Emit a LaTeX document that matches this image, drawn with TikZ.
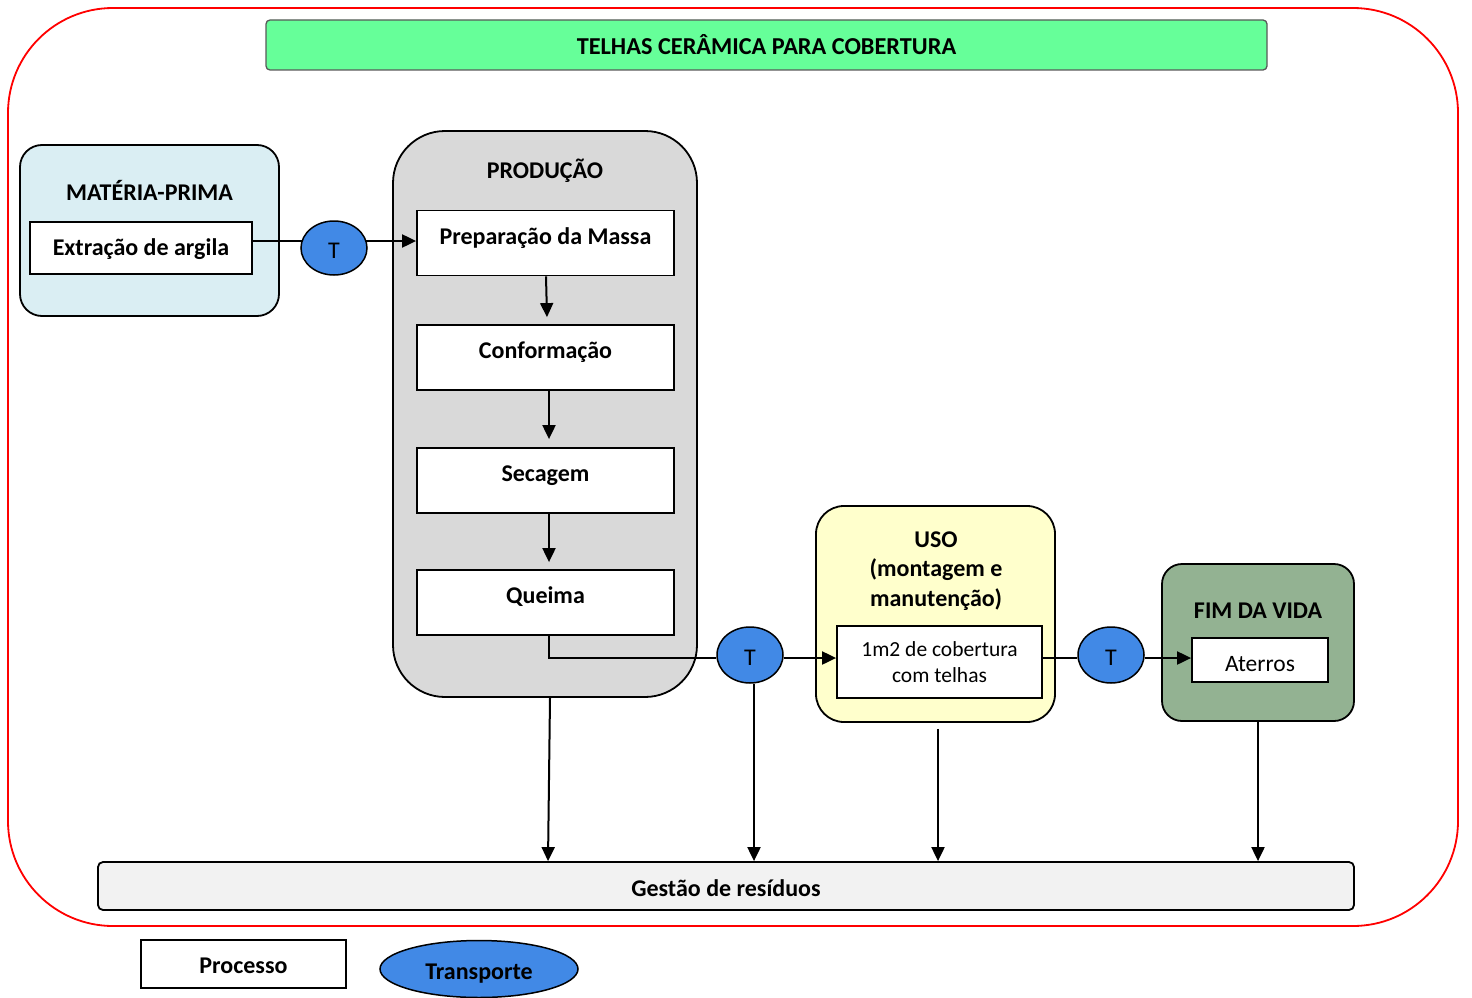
\documentclass[tikz,border=0pt]{standalone}
\usepackage{fontspec}
\setmainfont{Carlito}
\usetikzlibrary{arrows.meta,shapes.geometric}
\pgfdeclarelayer{fg}
\pgfsetlayers{main,fg}
\definecolor{tgreen}{HTML}{66FF99}
\definecolor{mpblue}{HTML}{DAEEF3}
\definecolor{prodgray}{HTML}{D9D9D9}
\definecolor{usoyel}{HTML}{FFFFCC}
\definecolor{fimgreen}{HTML}{93B292}
\definecolor{tblue}{HTML}{4189E6}
\definecolor{gestgray}{HTML}{F2F2F2}
\newcommand{\txtat}[2]{\raisebox{#1}[0pt][0pt]{#2}}
\tikzset{
  fixt/.style={text height=0pt, text depth=0pt},
  stage/.style={draw=black, line width=1.8pt, inner sep=0pt},
  proc/.style={fixt, draw=black, fill=white, line width=1.8pt, inner sep=0pt, font=\fontsize{24}{28}\selectfont\bfseries},
  procn/.style={fixt, draw=black, fill=white, line width=1.8pt, inner sep=0pt, font=\fontsize{21.5}{26}\selectfont},
  ttl/.style={inner sep=0pt, align=center, font=\fontsize{24}{29.5}\selectfont\bfseries},
  tr/.style={fixt, ellipse, draw=black, fill=tblue, line width=1.5pt, minimum width=66pt, minimum height=54pt, inner sep=0pt, font=\fontsize{24}{28}\selectfont},
  conn/.style={line width=2pt},
  arr/.style={line width=2pt, -{Triangle[length=14pt,width=13pt]}}
}
\begin{document}
\begin{tikzpicture}[x=1pt,y=-1pt]
\useasboundingbox (0,0) rectangle (1472,998);
% outer frame
\draw[red, line width=1.8pt, rounded corners=105pt] (8,8) rectangle (1458,926);
% title
\node[fixt, draw=gray!70!black, fill=tgreen, line width=1.3pt, rounded corners=4pt, minimum width=1001pt, minimum height=50pt, inner sep=0pt, font=\fontsize{24.3}{28}\selectfont\bfseries] (title) at (766.5,45) {\txtat{-9.6pt}{TELHAS CERÂMICA PARA COBERTURA}};
% stage boxes
\node[stage, fill=mpblue, rounded corners=22pt, minimum width=259pt, minimum height=171pt] (mp) at (149.5,230.5) {};
\node[stage, fill=prodgray, rounded corners=52pt, minimum width=304pt, minimum height=566pt] (prod) at (545,414) {};
\node[stage, fill=usoyel, rounded corners=28pt, minimum width=239pt, minimum height=216pt] (uso) at (935.5,614) {};
\node[stage, fill=fimgreen, rounded corners=20pt, minimum width=192pt, minimum height=157pt] (fim) at (1258,642.5) {};
\node[fixt, draw=black, fill=gestgray, line width=1.8pt, rounded corners=5pt, minimum width=1256pt, minimum height=48pt, inner sep=0pt, font=\fontsize{24}{28}\selectfont\bfseries] (gest) at (726,886) {\txtat{-10.6pt}{Gestão de resíduos}};
% stage titles
\node[ttl] (mpt) at (149.5,190) {MATÉRIA-PRIMA};
\node[ttl] (prodt) at (545,171) {PRODUÇÃO};
\node[ttl] (usot) at (936,571) {USO\\(montagem e\\manutenção)};
\node[ttl] (fimt) at (1258,611) {FIM DA VIDA};
% process boxes
\node[proc, minimum width=222pt, minimum height=52pt] (extr) at (141,248) {\txtat{-7.6pt}{Extração de argila}};
\node[proc, minimum width=257pt, minimum height=65pt] (prep) at (545.5,243) {\txtat{-1.6pt}{Preparação da Massa}};
\node[proc, minimum width=257pt, minimum height=65pt] (conf) at (545.5,357.5) {\txtat{-1.1pt}{Conformação}};
\node[proc, minimum width=257pt, minimum height=65pt] (sec) at (545.5,480.5) {\txtat{-1.1pt}{Secagem}};
\node[proc, minimum width=257pt, minimum height=65pt] (queima) at (545.5,602.5) {\txtat{-1.1pt}{Queima}};
\node[procn, minimum width=205pt, minimum height=72pt] (use1) at (939.5,662) {\txtat{-20.8pt}{\begin{tabular}[b]{@{}c@{}}1m2 de cobertura\\com telhas\end{tabular}}};
\node[procn, minimum width=136pt, minimum height=44pt, font=\fontsize{23.5}{28}\selectfont] (ater) at (1260,660) {\txtat{-11.4pt}{Aterros}};
% transport ellipses (foreground)
\begin{pgfonlayer}{fg}
\node[tr] (t1) at (334,248) {\txtat{-10.6pt}{T}};
\node[tr, minimum height=56pt] (t2) at (750,655) {\txtat{-10.6pt}{T}};
\node[tr, minimum height=56pt] (t3) at (1111,655) {\txtat{-10.6pt}{T}};
\end{pgfonlayer}
% connectors
\draw[arr] (extr.east |- 0,241) -- (prep.west |- 0,241);
\draw[arr] ([xshift=0.5pt]prep.south) -- ([xshift=1.5pt,yshift=7pt]conf.north);
\draw[arr] ([xshift=3.5pt]conf.south) -- ([xshift=3.5pt,yshift=8pt]sec.north);
\draw[arr] ([xshift=3.5pt]sec.south) -- ([xshift=3.5pt,yshift=7pt]queima.north);
\draw[conn] ([xshift=3.5pt]queima.south) |- (t2.west |- 0,658);
\draw[arr] (t2.east |- 0,658) -- (use1.west |- 0,658);
\draw[conn] (use1.east |- 0,658) -- (t3.west |- 0,658);
\draw[arr] (t3.east |- 0,658) -- (ater.west |- 0,658);
\draw[arr] ([xshift=5pt]prod.south) -- ([xshift=3pt]prod.south |- gest.north);
\draw[arr] ([xshift=4pt]t2.south) -- ([xshift=4pt]t2.south |- gest.north);
\draw[arr] ([xshift=2.5pt,yshift=-6pt]uso.south) -- ([xshift=2.5pt]uso.south |- gest.north);
\draw[arr] (fim.south) -- (fim.south |- gest.north);
% legend
\node[proc, minimum width=205pt, minimum height=48pt] (leg1) at (243.5,964) {\txtat{-9.6pt}{Processo}};
\node[tr, minimum width=198pt, minimum height=57pt, font=\fontsize{24}{28}\selectfont\bfseries] (leg2) at (479,969) {\txtat{-10.6pt}{Transporte}};
\end{tikzpicture}
\end{document}
